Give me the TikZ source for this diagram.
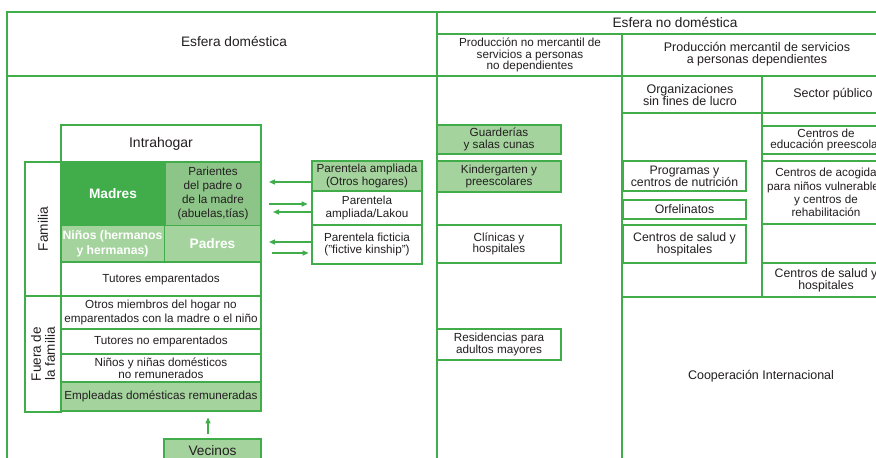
\documentclass[tikz,border=0pt]{standalone}
\usepackage{fontspec}
\setmainfont{Liberation Sans}
\usetikzlibrary{arrows.meta}
\definecolor{G}{RGB}{64,173,74}
\definecolor{GM}{RGB}{141,197,136}
\definecolor{GL}{RGB}{164,211,157}
\definecolor{T}{RGB}{35,31,32}
\newcommand\fzHead{\fontsize{13.7}{14}\selectfont}
\newcommand\fzIntra{\fontsize{14}{15}\selectfont}
\newcommand\fzBox{\fontsize{11.7}{11.7}\selectfont}
\newcommand\fzMid{\fontsize{12.3}{12}\selectfont}
\newcommand\fzBold{\bfseries\fontsize{13.7}{14}\selectfont}
\tikzset{
  bx/.style={draw=G, line width=2.8pt, inner sep=0pt, align=center, text=T, font=\fzBox},
  cell/.style={draw=G, line width=1pt, inner sep=0pt, align=center, text=T},
  lbl/.style={text=T, align=center, inner sep=0pt},
  frame/.style={draw=G, line width=2.6pt},
  arr/.style={draw=G, line width=1.2pt, -{Triangle[length=6pt,width=5pt]}},
}
\begin{document}
\begin{tikzpicture}[x=1pt,y=-1pt]
\useasboundingbox (0,0) rectangle (876,458);
\fill[white] (0,0) rectangle (876,458);
\clip (0,0) rectangle (876,458);
% main frame
\draw[frame, line join=miter] (7,480) -- (7,12) -- (900,12);
\draw[frame] (7,76) -- (900,76);
\draw[frame] (437,12) -- (437,480);
\draw[frame] (437,34) -- (900,34);
\draw[frame] (622,34) -- (622,480);
\draw[frame] (622,113) -- (900,113);
\draw[frame] (762,76) -- (762,297);
\draw[frame] (622,297) -- (900,297);
% headers
\node[lbl, font=\fzHead] (hdom) at (234,42) {Esfera doméstica};
\node[lbl, font=\fzHead] (hnodom) at (675,23) {Esfera no doméstica};
\node[lbl, font=\fontsize{11.7}{11.5}\selectfont] (hnm) at (530,55) {Producción no mercantil de\\servicios a personas\\no dependientes};
\node[lbl, font=\fontsize{12.5}{12.3}\selectfont] (hm) at (757,54) {Producción mercantil de servicios\\a personas dependientes};
\node[lbl, font=\fontsize{12.5}{12}\selectfont] (horg) at (690,95) {Organizaciones\\sin fines de lucro};
\node[lbl, font=\fontsize{12.5}{12}\selectfont] (hsec) at (833,94) {Sector público};
\node[lbl, font=\fontsize{12.5}{13}\selectfont] (coop) at (761,376) {Cooperación Internacional};
% domestic sphere
\node[bx, minimum width=200pt, minimum height=37pt, font=\fzIntra] (intra) at (161,143.5) {Intrahogar};
\node[cell, fill=G, minimum width=104pt, minimum height=63pt, text=white, font=\fzBold] (madres) at (113,193.5) {Madres};
\node[cell, fill=GM, minimum width=96pt, minimum height=63pt, font=\fontsize{11.7}{14}\selectfont] (parien) at (213,193.5) {Parientes\\del padre o\\de la madre\\(abuelas,tías)};
\node[cell, fill=GL, minimum width=103pt, minimum height=37pt, text=white, font=\bfseries\fontsize{12.2}{15}\selectfont] (ninos) at (112.5,243.5) {Niños (hermanos\\y hermanas)};
\node[cell, fill=GL, minimum width=97pt, minimum height=37pt, text=white, font=\fzBold] (padres) at (212.5,243.5) {Padres};
\draw[frame, line width=2.8pt] (61,162) rectangle (261,262);
\node[bx, rotate=90, minimum width=134pt, minimum height=36pt, font=\fzHead] (fam) at (43,229) {Familia};
\node[bx, rotate=90, minimum width=116pt, minimum height=36pt, font=\fontsize{13.5}{14}\selectfont] (fuera) at (43,354) {Fuera de\\la familia};
\node[bx, minimum width=200pt, minimum height=34pt] (tutemp) at (161,279) {Tutores emparentados};
\node[bx, minimum width=200pt, minimum height=33pt, font=\fontsize{11.7}{14}\selectfont] (otros) at (161,312.5) {Otros miembros del hogar no\\emparentados con la madre o el niño};
\node[bx, minimum width=200pt, minimum height=25pt] (tutno) at (161,341.5) {Tutores no emparentados};
\node[bx, minimum width=200pt, minimum height=28pt, font=\fontsize{11.7}{11.5}\selectfont] (ninas) at (161,368) {Niños y niñas domésticos\\no remunerados};
\node[bx, fill=GL, minimum width=200pt, minimum height=29pt] (emple) at (161,396.5) {Empleadas domésticas remuneradas};
\node[bx, fill=GL, minimum width=97pt, minimum height=24pt, font=\fzHead] (vecinos) at (212.5,451) {Vecinos};
% parentela
\node[bx, fill=GL, minimum width=110pt, minimum height=30pt, font=\fontsize{11.7}{12.5}\selectfont] (pa1) at (367,176) {Parentela ampliada\\(Otros hogares)};
\node[bx, minimum width=110pt, minimum height=34pt, font=\fontsize{11.7}{12.5}\selectfont] (pa2) at (367,208) {Parentela\\ampliada/Lakou};
\node[bx, minimum width=110pt, minimum height=39pt, font=\fontsize{11.7}{12}\selectfont] (pa3) at (367,244.5) {Parentela ficticia\\("fictive kinship")};
% non-mercantile
\node[bx, fill=GL, minimum width=124pt, minimum height=29pt] (guard) at (499,139.5) {Guarderías\\y salas cunas};
\node[bx, fill=GL, minimum width=124pt, minimum height=31pt] (kinder) at (499,176.5) {Kindergarten y\\preescolares};
\node[bx, minimum width=124pt, minimum height=38pt] (clin) at (499,244) {Clínicas y\\hospitales};
\node[bx, minimum width=124pt, minimum height=31pt] (resid) at (499,344.5) {Residencias para\\adultos mayores};
% mercantile: non-profit
\node[bx, minimum width=123pt, minimum height=30pt, font=\fzMid] (prog) at (684.5,176) {Programas y\\centros de nutrición};
\node[bx, minimum width=123pt, minimum height=19pt, font=\fzMid] (orfe) at (684.5,209.5) {Orfelinatos};
\node[bx, minimum width=123pt, minimum height=38pt, font=\fzMid] (salud1) at (684.5,244) {Centros de salud y\\hospitales};
% mercantile: public
\node[bx, minimum width=128pt, minimum height=28pt] (educ) at (826,140) {Centros de\\educación preescolar};
\node[bx, minimum width=128pt, minimum height=63pt, font=\fontsize{11.7}{13.3}\selectfont] (acog) at (826,192.5) {Centros de acogida\\para niños vulnerables\\y centros de\\rehabilitación};
\node[bx, minimum width=128pt, minimum height=39pt] (emptyb) at (826,243.5) {};
\node[bx, minimum width=128pt, minimum height=34pt, font=\fzMid] (salud2) at (826,280) {Centros de salud y\\hospitales};
% arrows
\coordinate (e1) at (269,182);
\coordinate (e2) at (269,204);
\coordinate (e3) at (273,212);
\coordinate (e4) at (269,242);
\coordinate (e5) at (272,253);
\coordinate (ev) at (208,0);
\draw[arr] (pa1.west |- e1) -- (e1);
\draw[arr, shorten >=3pt] (e2) -- (pa2.west |- e2);
\draw[arr] (pa2.west |- e3) -- (e3);
\draw[arr] (pa3.west |- e4) -- (e4);
\draw[arr, shorten >=2pt] (e5) -- (pa3.west |- e5);
\draw[arr, shorten <=4pt, shorten >=5pt] (vecinos.north -| ev) -- (emple.south -| ev);
\end{tikzpicture}
\end{document}
